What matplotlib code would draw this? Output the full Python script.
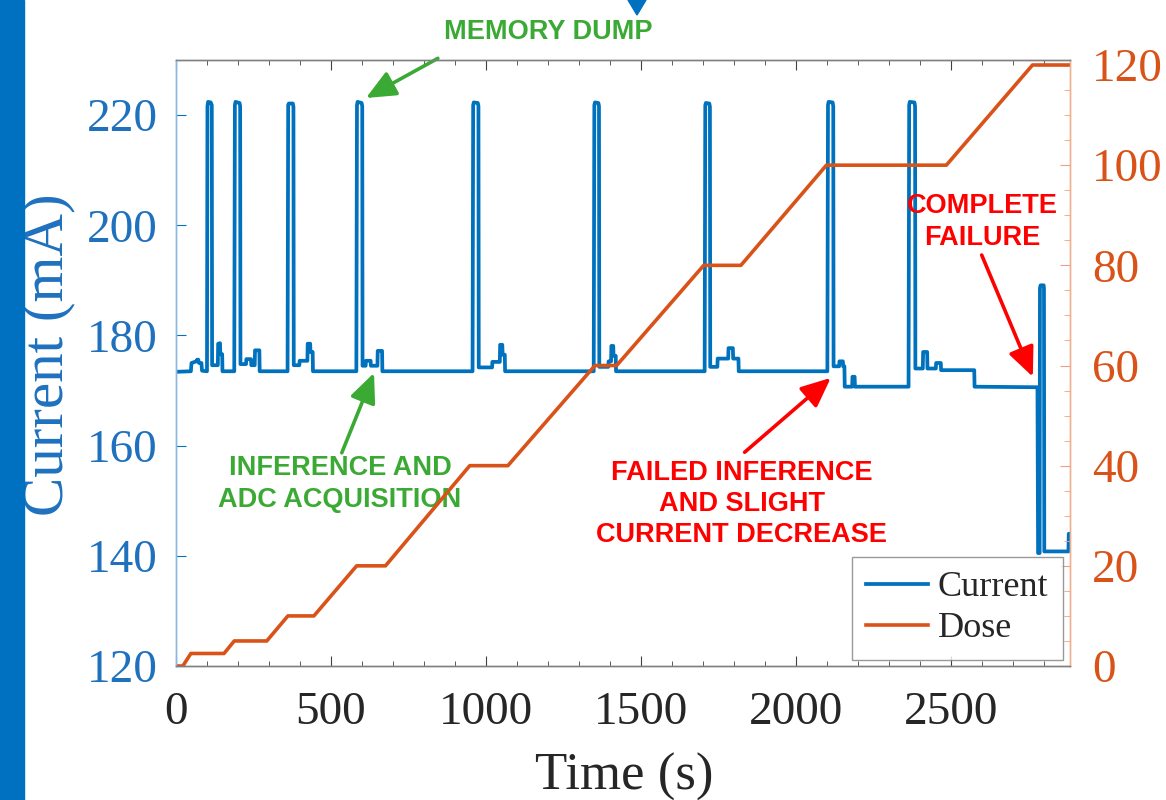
import matplotlib
matplotlib.use("Agg")
import matplotlib.pyplot as plt
from matplotlib.patches import Rectangle, Polygon
from matplotlib.ticker import MultipleLocator

# ---------------- data ----------------
current_t = [0, 48, 50, 66, 68, 72, 74, 82, 84, 100,
             101.5, 103.5, 112, 115.5, 116.5,
             135, 136, 142, 143, 149, 150, 188,
             190, 192, 205, 207, 208,
             226, 227, 242, 243, 254, 255, 269, 270, 360,
             362, 364, 377, 379, 380,
             398, 399, 424, 425, 433, 434, 441, 442, 582,
             584, 586, 599, 601, 602,
             612, 613, 628, 629, 650, 651, 665, 666, 957,
             959, 961, 974, 976, 977,
             1020, 1021, 1045, 1046, 1053, 1054, 1061, 1062, 1348,
             1350, 1352, 1363, 1365, 1366,
             1395, 1396, 1404, 1405, 1411, 1412, 1419, 1420, 1706,
             1708, 1710, 1721, 1723, 1724,
             1747, 1748, 1782, 1783, 1797, 1798, 1815, 1816, 2102,
             2104, 2106, 2119, 2121, 2122,
             2140, 2141, 2152, 2153, 2157, 2158,
             2182, 2183, 2190, 2191, 2364,
             2366, 2368, 2383, 2385, 2386,
             2410, 2411, 2424, 2425, 2452, 2453, 2468, 2469, 2576, 2577,
             2780, 2782, 2787, 2788, 2790, 2800, 2801, 2802, 2880, 2881, 2885]
current_mA = [173.4, 173.5, 175.0, 175.3, 175.6, 175.6, 175.0, 175.0, 173.6, 173.5,
              221.6, 222.4, 222.3, 221.8, 174.6,
              174.6, 178.5, 178.6, 176.6, 176.6, 173.5, 173.5,
              221.8, 222.4, 222.2, 221.6, 174.8,
              174.8, 175.7, 175.7, 174.6, 174.6, 177.3, 177.3, 173.5, 173.5,
              221.8, 222.1, 222.1, 221.5, 174.6,
              174.6, 175.4, 175.4, 178.5, 178.5, 177.0, 177.0, 173.5, 173.5,
              221.8, 222.4, 222.2, 221.6, 174.5,
              174.5, 175.4, 175.4, 174.5, 174.5, 177.2, 177.2, 173.5, 173.5,
              221.8, 222.3, 222.2, 221.6, 174.2,
              174.2, 175.2, 175.2, 178.3, 178.3, 176.5, 176.5, 173.5, 173.5,
              221.8, 222.3, 222.2, 221.6, 174.3,
              174.3, 175.3, 175.3, 178.1, 178.1, 176.3, 176.3, 173.5, 173.5,
              221.8, 222.2, 222.1, 221.5, 174.3,
              174.3, 175.8, 175.8, 177.7, 177.7, 175.8, 175.8, 173.5, 173.5,
              221.8, 222.4, 222.3, 221.6, 174.4,
              174.4, 175.3, 175.3, 174.4, 174.4, 170.7,
              170.7, 172.5, 172.5, 170.7, 170.7,
              221.8, 222.4, 222.3, 221.6, 174.0,
              174.0, 177.0, 177.0, 174.0, 174.0, 175.0, 175.0, 173.7, 173.7, 170.7,
              170.6, 140.5, 140.5, 188.6, 189.1, 189.1, 188.5, 140.8, 140.8, 144.0, 144.0]

dose_t = [0, 22, 48, 155, 188, 293, 361, 445, 583, 676, 948, 1071,
          1352, 1422, 1703, 1823, 2099, 2486, 2764, 2885]
dose_krad = [0, 0, 2.5, 2.5, 5, 5, 10, 10, 20, 20, 40, 40,
             60, 60, 80, 80, 100, 100, 120, 120]

x_ticks = [0, 500, 1000, 1500, 2000, 2500]
left_ticks = [120, 140, 160, 180, 200, 220]
right_ticks = [0, 20, 40, 60, 80, 100, 120]

BLUE = "#0072BD"
ORANGE = "#D95319"
GREEN = "#3BAA35"
RED = "#FF0000"
DARK = "#262626"

serif = ["Liberation Serif", "DejaVu Serif"]
sans = ["Liberation Sans", "DejaVu Sans"]

W, H = 1166, 800
fig = plt.figure(figsize=(W / 100, H / 100), dpi=100)
ax = fig.add_axes([176 / W, 1 - 666 / H, (1070 - 176) / W, (666 - 60) / H])
ax2 = ax.twinx()

l1, = ax.plot(current_t, current_mA, color=BLUE, lw=2.7, solid_joinstyle="round")
l2, = ax2.plot(dose_t, dose_krad, color=ORANGE, lw=2.6)

ax.set_xlim(0, 2885)
ax.set_ylim(120, 230)
ax2.set_ylim(0, 121)

ax.set_xticks(x_ticks)
ax.xaxis.set_minor_locator(MultipleLocator(100))
ax.set_yticks(left_ticks)
ax2.set_yticks(right_ticks)
ax2.yaxis.set_minor_locator(MultipleLocator(5))

# spines
for a in (ax, ax2):
    a.spines["top"].set_color("#808080")
    a.spines["bottom"].set_color("#808080")
    a.spines["left"].set_color("#8AB8E0")
    a.spines["right"].set_color("#F0B090")
    for s in a.spines.values():
        s.set_linewidth(1.0)

ax.tick_params(axis="x", which="both", direction="in", top=True, colors="#404040",
               labelcolor=DARK, labelsize=34, pad=18)
ax.tick_params(axis="x", which="major", length=7)
ax.tick_params(axis="x", which="minor", length=3.8)
ax.tick_params(axis="y", which="major", direction="in", length=7, color=BLUE,
               labelcolor="#1F71BE", labelsize=34, pad=13)
ax2.tick_params(axis="y", which="major", direction="in", length=7, color="#F0A080",
                labelcolor=ORANGE, labelsize=34, pad=16)
ax2.tick_params(axis="y", which="minor", direction="in", length=4.5, color="#F0A080")

for lab in ax.get_xticklabels() + ax.get_yticklabels() + ax2.get_yticklabels():
    lab.set_fontfamily(serif)

ax.set_xlabel("Time (s)", fontsize=38, family=serif, color=DARK)
ax.xaxis.set_label_coords(0.501, -0.143)
ax.set_ylabel("Current (mA)", fontsize=42.5, family=serif, color="#1F71BE")
ax.yaxis.set_label_coords(-0.113, 0.513)

leg = ax2.legend([l1, l2], ["Current", "Dose"], loc="lower right",
                 bbox_to_anchor=(0.992, 0.01), prop={"family": serif, "size": 26},
                 frameon=True, fancybox=False, edgecolor="#808080",
                 handlelength=1.7, handletextpad=0.28, labelspacing=0.22,
                 borderpad=0.4, borderaxespad=0)
leg.get_frame().set_linewidth(1.0)
for t in leg.get_texts():
    t.set_color(DARK)

# annotations (data coordinates of the left axis)
tfont = dict(family=sans, weight="bold", fontsize=19.5, ha="center", va="center")
ax.text(1200, 235.0, "MEMORY DUMP", color=GREEN, clip_on=False, **tfont)
ax.text(529, 153.0, "INFERENCE AND\nADC ACQUISITION", color=GREEN, linespacing=1.27, **tfont)
ax.text(1826, 149.4, "FAILED INFERENCE\nAND SLIGHT\nCURRENT DECREASE", color=RED,
        linespacing=1.27, **tfont)
ax.text(2603, 200.6, "COMPLETE\nFAILURE", color=RED, linespacing=1.27, **tfont)

def arrow(tip, tail, color):
    ax.annotate("", xy=tip, xytext=tail, annotation_clip=False,
                arrowprops=dict(arrowstyle="-|>,head_length=0.9,head_width=0.4",
                                lw=2.6, color=color, mutation_scale=20,
                                shrinkA=0, shrinkB=0))

arrow((613, 223.1), (845, 230.3), GREEN)
arrow((639, 173.2), (535, 158.7), GREEN)
arrow((2113, 172.3), (1835, 158.8), RED)
arrow((2765, 172.5), (2600, 194.6), RED)

# decorative slide elements
fig.patches.append(Rectangle((0, 0), 24 / W, 1, transform=fig.transFigure,
                             color="#0070C0", zorder=0))
fig.patches.append(Polygon([(628 / W, 1), (646 / W, 1), (637 / W, 1 - 15 / H)],
                           closed=True, transform=fig.transFigure,
                           color="#0070C0", zorder=0))

fig.savefig("out.png", dpi=100)
